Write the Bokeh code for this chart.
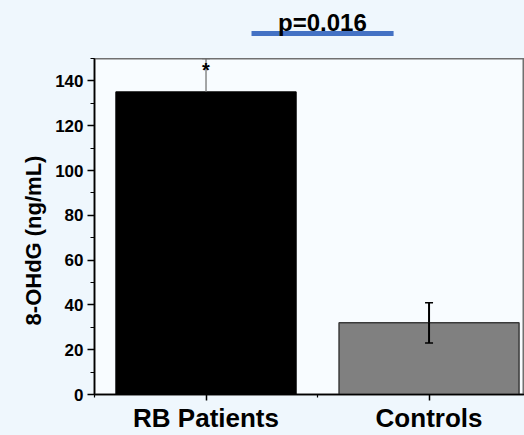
from bokeh.plotting import figure
from bokeh.layouts import column, row
from bokeh.models import ColumnDataSource, FixedTicker, Range1d
from bokeh.core.properties import value
from bokeh.embed import file_html
from bokeh.resources import INLINE
import math

# ---- data ----
categories = ["RB Patients", "Controls"]
means = [135, 32]
errors = [15, 9]
sig_marks = ["*", ""]
title_text = "p=0.016"
y_label = "8-OHdG (ng/mL)"
y_ticks = [0, 20, 40, 60, 80, 100, 120, 140]

# ---- styles ----
bar_fill = ["#000000", "#808080"]
bar_edge = ["#000000", "#3a3a3a"]
upper_color = ["#6a6a6a", "#000000"]
upper_width = [1.2, 2]
lower_color = ["#000000", "#000000"]
FONT = "Liberation Sans"
OUTER = "#eff7fd"
INNER = "#f8fcff"

xpos = [i + 1 for i in range(len(categories))]
src = ColumnDataSource(dict(
    x=xpos, top=means,
    lo=[m - e for m, e in zip(means, errors)],
    hi=[m + e for m, e in zip(means, errors)],
    fill=bar_fill, edge=bar_edge,
    ucol=upper_color, uw=upper_width, lcol=lower_color,
    mark=sig_marks,
))

x_range = Range1d(0.5, 2.428)


def bare(fig):
    fig.axis.visible = False
    fig.grid.visible = False
    fig.outline_line_color = None
    fig.background_fill_color = OUTER
    fig.border_fill_color = OUTER
    return fig


# ---- y-axis label strip ----
lab = bare(figure(width=50, height=435, output_backend="svg",
                  toolbar_location=None, x_range=Range1d(0, 50),
                  y_range=Range1d(435, 0), min_border=0))
lab.text(x=[33], y=[240], text=[y_label], angle=math.pi / 2,
         text_align="center", text_baseline="middle", text_font=value(FONT),
         text_font_style="bold", text_font_size="22px", text_color="black")

# ---- header figure (title + blue bar) ----
h = bare(figure(width=474, height=58, output_backend="svg",
                toolbar_location=None, x_range=x_range, y_range=Range1d(58, 0),
                min_border_left=44, min_border_right=0, min_border_top=0,
                min_border_bottom=0))
h.segment(x0=[1.204], y0=[33], x1=[1.841], y1=[33], line_color="#4472c4",
          line_width=5)
h.text(x=[1.522], y=[22], text=[title_text], text_align="center",
       text_baseline="alphabetic", text_font=value(FONT),
       text_font_style="bold", text_font_size="24px", text_color="black")

# ---- main figure ----
p = figure(width=474, height=377, output_backend="svg", toolbar_location=None,
           x_range=x_range, y_range=Range1d(0, 150),
           min_border_left=44, min_border_right=0, min_border_top=0,
           min_border_bottom=40)
p.background_fill_color = INNER
p.border_fill_color = OUTER
p.outline_line_color = "#707070"
p.outline_line_width = 2
p.grid.visible = False

p.vbar(x="x", top="top", width=0.807, source=src, fill_color="fill",
       line_color="edge", line_width=1.5)
p.segment(x0="x", y0="top", x1="x", y1="hi", source=src, line_color="ucol",
          line_width="uw")
p.segment(x0="x", y0="lo", x1="x", y1="top", source=src, line_color="lcol",
          line_width=2)
p.scatter(x="x", y="lo", marker="dash", size=8, source=src, line_color="lcol",
          line_width=1.5)
p.scatter(x="x", y="hi", marker="dash", size=8, source=src, line_color="ucol",
          line_width=1.5)
p.text(x="x", y="hi", text="mark", source=src, text_align="center",
       text_baseline="top", text_font=value(FONT), text_font_style="bold",
       text_font_size="20px", text_color="black")

p.yaxis.ticker = FixedTicker(ticks=y_ticks, minor_ticks=list(range(0, 151, 10)))
p.yaxis.major_label_text_font = FONT
p.yaxis.major_label_text_font_style = "bold"
p.yaxis.major_label_text_font_size = "17px"
p.yaxis.major_label_standoff = 4

p.xaxis.ticker = FixedTicker(ticks=xpos, minor_ticks=[0.5, 1.5, 2.5])
p.xaxis.major_label_overrides = {x: c for x, c in zip(xpos, categories)}
p.xaxis.major_label_text_font = FONT
p.xaxis.major_label_text_font_style = "bold"
p.xaxis.major_label_text_font_size = "26px"
p.xaxis.major_label_standoff = 2

for ax in (p.xaxis, p.yaxis):
    ax.axis_line_color = "black"
    ax.axis_line_width = 1.5
    ax.major_tick_line_color = "black"
    ax.minor_tick_line_color = "black"
    ax.major_tick_line_width = 1.5
    ax.minor_tick_line_width = 1.2
    ax.major_tick_in = 0
    ax.minor_tick_in = 0
    ax.major_label_text_color = "black"
p.yaxis.major_tick_out = 7
p.yaxis.minor_tick_out = 4
p.xaxis.major_tick_out = 6
p.xaxis.minor_tick_out = 3

bg = {"background-color": OUTER}
layout = row(lab, column(h, p, spacing=0, styles=bg), spacing=0, styles=bg)
open("out.html", "w").write(file_html(layout, INLINE))
